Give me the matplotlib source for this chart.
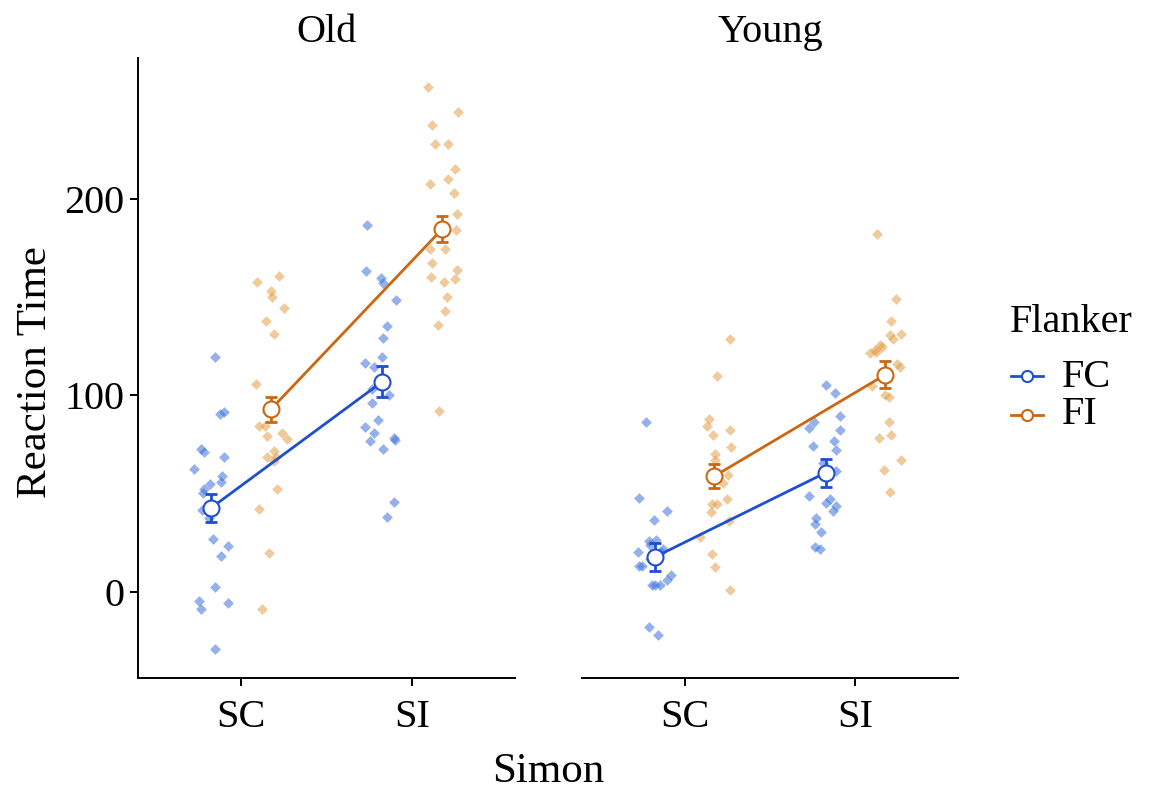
import numpy as np
import matplotlib.pyplot as plt
from matplotlib.lines import Line2D

plt.rcParams['font.family'] = ['Liberation Serif', 'DejaVu Serif']

groups = ["Old", "Young"]
simon = ["SC", "SI"]
flanker = ["FC", "FI"]

# individual reaction times
old_sc_fc = [119.6, 91.5, 90.5, 72.8, 71.0, 68.7, 62.6, 58.9, 56.0, 54.7, 52.2, 50.5,
             41.5, 37.8, 43.7, 26.8, 23.1, 18.4, 2.4, -5.6, -9.0, -4.9, -29.2]
old_sc_fi = [160.7, 157.8, 150.0, 153.4, 144.5, 137.9, 131.1, 105.7, 91.5, 84.2, 84.2,
             80.9, 79.5, 78.0, 71.9, 66.8, 68.7, 52.5, 42.0, 19.6, -8.6, 68.5]
old_si_fc = [186.8, 163.2, 157.3, 159.8, 148.9, 135.2, 129.3, 119.6, 114.6, 116.6, 103.1,
             100.3, 96.4, 87.6, 83.7, 78.3, 77.0, 80.9, 77.5, 72.8, 45.6, 38.0]
old_si_fi = [257.2, 244.6, 237.8, 228.2, 228.2, 215.5, 210.3, 208.0, 203.2, 192.3, 184.3,
             174.8, 174.8, 167.7, 163.9, 157.6, 160.2, 159.3, 150.0, 143.3, 135.7, 92.2]
young_sc_fc = [86.7, 47.9, 41.2, 36.5, 26.5, 26.0, 21.8, 20.1, 16.7, 13.3, 13.3, 8.6,
               3.5, 3.5, 3.5, 5.7, -17.9, -22.1, 20.0, 24.0]
young_sc_fi = [129.0, 110.0, 88.0, 84.6, 82.5, 80.0, 73.6, 70.4, 67.0, 59.7, 55.5, 44.6,
               44.6, 47.1, 40.4, 36.1, 27.7, 19.2, 12.5, 1.0]
young_si_fc = [105.3, 101.4, 89.3, 86.7, 82.2, 83.4, 76.6, 72.4, 74.1, 65.7, 61.4, 48.8,
               47.1, 43.7, 45.4, 41.2, 37.3, 34.4, 30.2, 22.6, 21.8]
young_si_fi = [182.1, 149.2, 137.7, 129.0, 130.6, 131.1, 125.6, 124.7, 123.0, 121.4, 122.2,
               114.6, 116.0, 105.0, 99.4, 100.3, 86.7, 80.0, 78.3, 67.3, 61.9, 50.8]

# group means and standard errors (SC, SI)
old_fc_mean = [42.6, 107.0]
old_fi_mean = [92.9, 184.8]
young_fc_mean = [17.6, 60.6]
young_fi_mean = [58.9, 110.6]
old_fc_se = [7.2, 8.0]
old_fi_se = [6.5, 6.6]
young_fc_se = [7.0, 7.0]
young_fi_se = [6.2, 7.0]

raw = {
    "Old": {"FC": [old_sc_fc, old_si_fc], "FI": [old_sc_fi, old_si_fi]},
    "Young": {"FC": [young_sc_fc, young_si_fc], "FI": [young_sc_fi, young_si_fi]},
}
means = {
    "Old": {"FC": (old_fc_mean, old_fc_se), "FI": (old_fi_mean, old_fi_se)},
    "Young": {"FC": (young_fc_mean, young_fc_se), "FI": (young_fi_mean, young_fi_se)},
}

line_col = {"FC": "#1f4fcf", "FI": "#cc6610"}
pt_col = {"FC": "#3d72db", "FI": "#e3a04a"}
dodge = {"FC": -0.175, "FI": 0.175}

fig = plt.figure(figsize=(11.49, 7.94), dpi=100)
rng = np.random.default_rng(7)

W, H = 1149, 794
boxes = {"Old": [138 / W, 1 - 678 / H, 377 / W, 620 / H],
         "Young": [582 / W, 1 - 678 / H, 376 / W, 620 / H]}

for g in groups:
    ax = fig.add_axes(boxes[g])
    for f in flanker:
        for i, vals in enumerate(raw[g][f]):
            x = i + 1 + dodge[f] + rng.uniform(-0.1, 0.1, len(vals))
            ax.scatter(x, vals, marker="D", s=30, color=pt_col[f], alpha=0.55,
                       linewidths=0, zorder=2)
        m, se = means[g][f]
        xs = np.arange(1, 3) + dodge[f]
        ax.plot(xs, m, color=line_col[f], lw=2.0, zorder=3)
        ax.errorbar(xs, m, yerr=se, fmt="none", ecolor=line_col[f], elinewidth=2.0,
                    capsize=4, capthick=2.0, zorder=4)
        ax.plot(xs, m, "o", ms=11.5, mfc="white", mec=line_col[f], mew=1.5, zorder=5)
    ax.set_xlim(0.4, 2.6)
    ax.set_ylim(-44, 272)
    ax.set_xticks([1, 2])
    ax.set_xticklabels(simon)
    ax.spines["top"].set_visible(False)
    ax.spines["right"].set_visible(False)
    ax.spines["bottom"].set_linewidth(1.4)
    ax.spines["left"].set_linewidth(1.4)
    ax.tick_params(labelsize=29, width=1.4, length=6, pad=4)
    ax.tick_params(axis="x", pad=9)
    if g == "Old":
        ax.set_yticks([0, 100, 200])
    else:
        ax.spines["left"].set_visible(False)
        ax.set_yticks([])
    x0, y0, w, h = boxes[g]
    fig.text(x0 + w / 2, 1 - 42 / H, g, ha="center", va="baseline", fontsize=29)

fig.text(548 / W, 1 - 782 / H, "Simon", ha="center", va="baseline", fontsize=31)
fig.text(36 / W, 1 - 372 / H, "Reaction Time", ha="center", va="center",
         rotation=90, fontsize=31)

# legend drawn by hand
fig.text(1010 / W, 1 - 332 / H, "Flanker", ha="left", va="baseline", fontsize=29)
for k, f in enumerate(flanker):
    yk = 1 - (376 + 39 * k) / H
    fig.add_artist(Line2D([1011 / W, 1043 / W], [yk, yk], color=line_col[f], lw=2.0,
                          transform=fig.transFigure))
    fig.add_artist(Line2D([1027 / W], [yk], marker="o", ms=8, mfc="white",
                          mec=line_col[f], mew=1.5, transform=fig.transFigure))
    fig.text(1062 / W, 1 - (387 + 37 * k) / H, f, ha="left", va="baseline", fontsize=29)

fig.savefig("out.png", dpi=100)
